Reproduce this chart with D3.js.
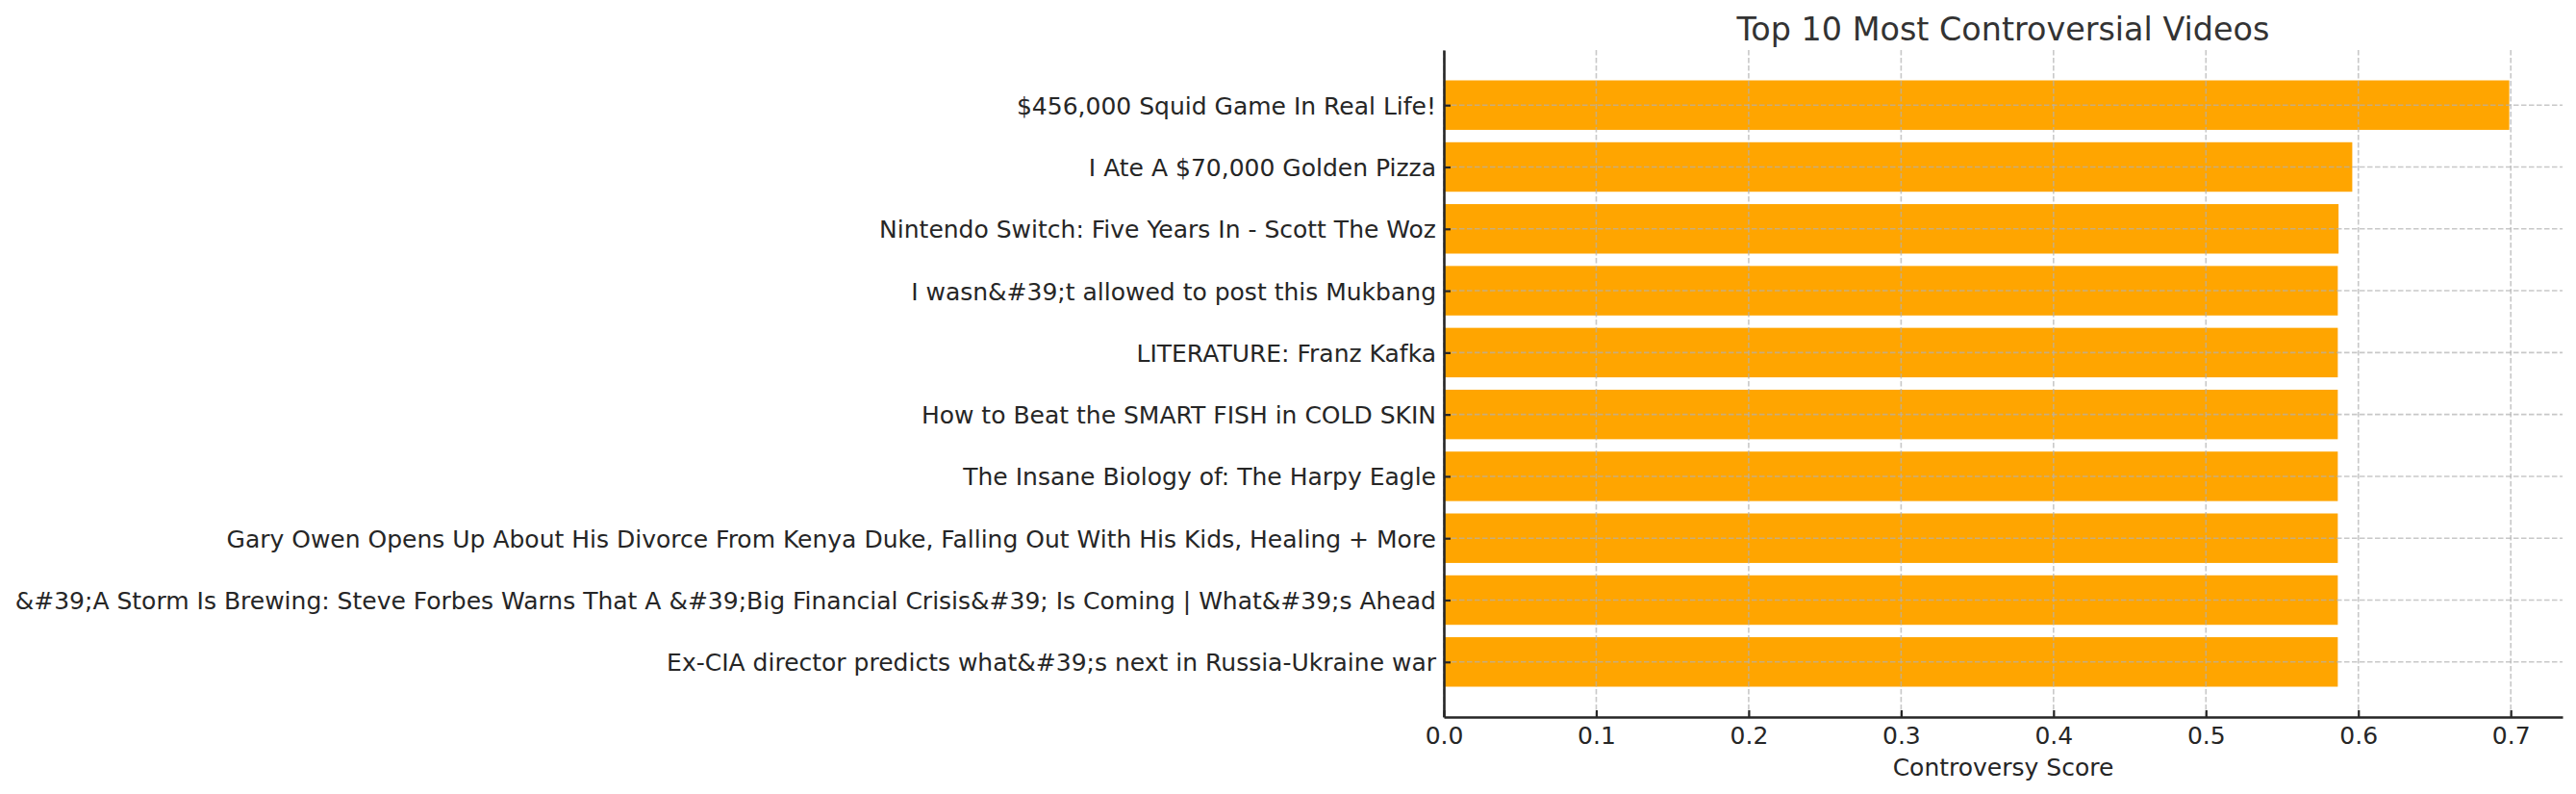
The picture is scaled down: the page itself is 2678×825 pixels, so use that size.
<!DOCTYPE html>
<html>
<head>
<meta charset="utf-8">
<script src="https://cdn.jsdelivr.net/npm/d3@7"></script>
<style>
  html, body { margin: 0; padding: 0; background: #fff; }
  svg { display: block; }
  text { font-family: "DejaVu Sans", sans-serif; }
</style>
</head>
<body>
<svg id="chart" width="2678" height="825"></svg>
<script>
const titles = [
  "$456,000 Squid Game In Real Life!",
  "I Ate A $70,000 Golden Pizza",
  "Nintendo Switch: Five Years In - Scott The Woz",
  "I wasn&#39;t allowed to post this Mukbang",
  "LITERATURE: Franz Kafka",
  "How to Beat the SMART FISH in COLD SKIN",
  "The Insane Biology of: The Harpy Eagle",
  "Gary Owen Opens Up About His Divorce From Kenya Duke, Falling Out With His Kids, Healing + More",
  "&#39;A Storm Is Brewing: Steve Forbes Warns That A &#39;Big Financial Crisis&#39; Is Coming | What&#39;s Ahead",
  "Ex-CIA director predicts what&#39;s next in Russia-Ukraine war"
];
const scores = [0.699, 0.596, 0.587, 0.5865, 0.5865, 0.5865, 0.5865, 0.5865, 0.5865, 0.5865];
const xTicks = [0.0, 0.1, 0.2, 0.3, 0.4, 0.5, 0.6, 0.7];
const chartTitle = "Top 10 Most Controversial Videos";
const xLabel = "Controversy Score";

const svg = d3.select("#chart");
const pLeft = 1501, pRight = 2664, pTop = 52, pBottom = 745;
const n = titles.length;

const x = d3.scaleLinear().domain([0, d3.max(scores) * 1.05]).range([pLeft, pRight]);
const y = d3.scaleLinear().domain([-0.49 - 0.4, n - 1 + 0.4 + 0.49]).range([pTop, pBottom]);
const barH = y(0.8) - y(0);

// bars
svg.append("g").selectAll("rect").data(scores).join("rect")
  .attr("x", x(0))
  .attr("y", (d, i) => y(i - 0.4))
  .attr("width", d => x(d) - x(0))
  .attr("height", barH)
  .attr("fill", "#FFA500");

// grid (drawn above bars)
const grid = svg.append("g")
  .attr("stroke", "#b0b0b0").attr("stroke-opacity", 0.7)
  .attr("stroke-width", 1.6).attr("stroke-dasharray", "5.5,2.5");
grid.selectAll("line.v").data(xTicks).join("line").attr("class", "v")
  .attr("x1", d => x(d)).attr("x2", d => x(d))
  .attr("y1", pTop).attr("y2", pBottom);
grid.selectAll("line.h").data(d3.range(n)).join("line").attr("class", "h")
  .attr("x1", pLeft).attr("x2", pRight)
  .attr("y1", d => y(d)).attr("y2", d => y(d));

// x axis
const xAxis = d3.axisBottom(x).tickValues(xTicks).tickFormat(d3.format(".1f"))
  .tickSizeInner(-7).tickSizeOuter(0).tickPadding(10);
const gx = svg.append("g").attr("transform", `translate(0,${pBottom})`).call(xAxis);
gx.select(".domain").attr("stroke", "#262626").attr("stroke-width", 2.6);
gx.selectAll(".tick line").attr("stroke", "#262626").attr("stroke-width", 2.2);
gx.selectAll(".tick text").attr("font-size", 25).attr("fill", "#262626")
  .attr("font-family", "DejaVu Sans");

// y axis
const yAxis = d3.axisLeft(y).tickValues(d3.range(n)).tickFormat(i => titles[i])
  .tickSizeInner(-7).tickSizeOuter(0).tickPadding(8);
const gy = svg.append("g").attr("transform", `translate(${pLeft},0)`).call(yAxis);
gy.select(".domain").attr("stroke", "#262626").attr("stroke-width", 2.6);
gy.selectAll(".tick line").attr("stroke", "#262626").attr("stroke-width", 2.2);
gy.selectAll(".tick text").attr("font-size", 25).attr("fill", "#262626")
  .attr("font-family", "DejaVu Sans").attr("dy", "0.36em");

// title
svg.append("text").attr("x", (pLeft + pRight) / 2).attr("y", 42)
  .attr("text-anchor", "middle").attr("font-size", 33.4).attr("fill", "#333333")
  .text(chartTitle);

// x label
svg.append("text").attr("x", (pLeft + pRight) / 2).attr("y", 806)
  .attr("text-anchor", "middle").attr("font-size", 25).attr("fill", "#262626")
  .text(xLabel);
</script>
</body>
</html>
